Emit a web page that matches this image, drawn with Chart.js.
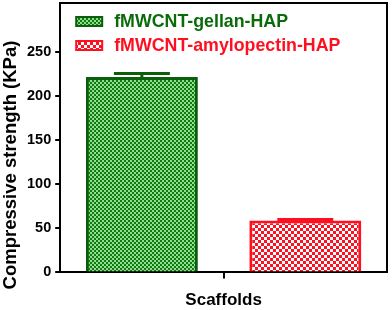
<!DOCTYPE html>
<html>
<head>
<meta charset="utf-8">
<script src="https://cdn.jsdelivr.net/npm/chart.js@4"></script>
<style>
  html, body { margin: 0; padding: 0; background: #fff; }
  #wrap { width: 392px; height: 310px; }
</style>
</head>
<body>
<div id="wrap"><canvas id="chart"></canvas></div>
<script>
// donnees
const categories = [''];
const seriesNames = ['fMWCNT-gellan-HAP', 'fMWCNT-amylopectin-HAP'];
const gellanValues = [222];
const amyloValues = [59];
const gellanErr = [4];
const amyloErr = [1];
const yTicks = [0, 50, 100, 150, 200, 250];
const yTitle = 'Compressive strength (KPa)';

// motifs en damier
function makePattern(cell, c1, c2) {
    let p = document.createElement('canvas');
    p.width = cell * 2;
    p.height = cell * 2;
    let g = p.getContext('2d');
    g.fillStyle = c2;
    g.fillRect(0, 0, cell * 2, cell * 2);
    g.fillStyle = c1;
    g.fillRect(0, 0, cell, cell);
    g.fillRect(cell, cell, cell, cell);
    return g.createPattern(p, 'repeat');
}

const ctx = document.getElementById('chart').getContext('2d');
const greenPat = makePattern(2, '#137a13', '#8ee08e');
const redPat = makePattern(3, '#ff1020', '#ffffff');
const textColors = ['#0b6b0b', '#ff1020'];

// barres d'erreur, cadre haut/droite, legende et titre Y
const extras = {
    id: 'extras',
    afterDatasetsDraw(chart) {
        let c = chart.ctx;
        let errs = [gellanErr, amyloErr];
        chart.data.datasets.forEach((ds, i) => {
            let meta = chart.getDatasetMeta(i);
            meta.data.forEach((bar, j) => {
                let y = chart.scales.y;
                let top = y.getPixelForValue(ds.data[j] + errs[i][j]);
                let half = bar.width / 4;
                c.save();
                c.strokeStyle = ds.borderColor;
                c.lineWidth = 3;
                c.beginPath();
                c.moveTo(bar.x, bar.y);
                c.lineTo(bar.x, top);
                c.moveTo(bar.x - half, top);
                c.lineTo(bar.x + half, top);
                c.stroke();
                c.restore();
            });
        });
        let a = chart.chartArea;
        c.save();
        c.strokeStyle = '#000';
        c.lineWidth = 2;
        c.beginPath();
        c.moveTo(a.left, a.top);
        c.lineTo(a.right, a.top);
        c.lineTo(a.right, a.bottom);
        c.stroke();

        // legende
        c.font = 'bold 17.8px "Liberation Sans"';
        c.textBaseline = 'middle';
        chart.data.datasets.forEach((ds, i) => {
            let bx = a.left + 16;
            let by = a.top + 14 + i * 24;
            c.fillStyle = ds.backgroundColor;
            c.fillRect(bx, by, 26, 9);
            c.strokeStyle = ds.borderColor;
            c.lineWidth = 2;
            c.strokeRect(bx, by, 26, 9);
            c.fillStyle = textColors[i];
            c.fillText(ds.label, bx + 38, by + 5);
        });

        // titre de l'axe Y
        c.translate(11, 165);
        c.rotate(-Math.PI / 2);
        c.font = 'bold 18.5px "Liberation Sans"';
        c.textAlign = 'center';
        c.fillStyle = '#000';
        c.fillText(yTitle, 0, 0);
        c.restore();
    }
};

new Chart(ctx, {
    type: 'bar',
    data: {
        labels: categories,
        datasets: [{
            label: seriesNames[0],
            data: gellanValues,
            backgroundColor: greenPat,
            borderColor: '#0b5e0b',
            borderWidth: 3
        }, {
            label: seriesNames[1],
            data: amyloValues,
            backgroundColor: redPat,
            borderColor: '#ff1020',
            borderWidth: 3
        }]
    },
    options: {
        responsive: true,
        maintainAspectRatio: false,
        animation: false,
        layout: { padding: { top: 3, right: 5, left: 23, bottom: 0 } },
        barPercentage: 0.685,
        categoryPercentage: 1.0,
        plugins: {
            tooltip: { enabled: false },
            legend: { display: false }
        },
        scales: {
            x: {
                grid: { display: true, offset: false, drawOnChartArea: false, drawTicks: true, tickLength: 6, color: '#000', lineWidth: 2 },
                border: { display: true, color: '#000', width: 2 },
                ticks: { display: true, padding: 0, font: { size: 1 } },
                title: {
                    display: true,
                    text: 'Scaffolds',
                    color: '#000',
                    padding: { top: 11, bottom: -1 },
                    font: { family: 'Liberation Sans', size: 17, weight: 'bold' }
                }
            },
            y: {
                min: 0,
                max: 306,
                afterBuildTicks(axis) {
                    axis.ticks = yTicks.map(v => ({ value: v }));
                },
                afterFit(axis) {
                    axis.paddingTop = 0;
                },
                grid: { display: true, drawOnChartArea: false, drawTicks: true, tickLength: 5, color: '#000', lineWidth: 2 },
                border: { display: true, color: '#000', width: 2 },
                ticks: {
                    color: '#000',
                    padding: 4,
                    font: { family: 'Liberation Sans', size: 14.5, weight: 'bold' }
                },
                title: { display: false }
            }
        }
    },
    plugins: [extras]
});
</script>
</body>
</html>
